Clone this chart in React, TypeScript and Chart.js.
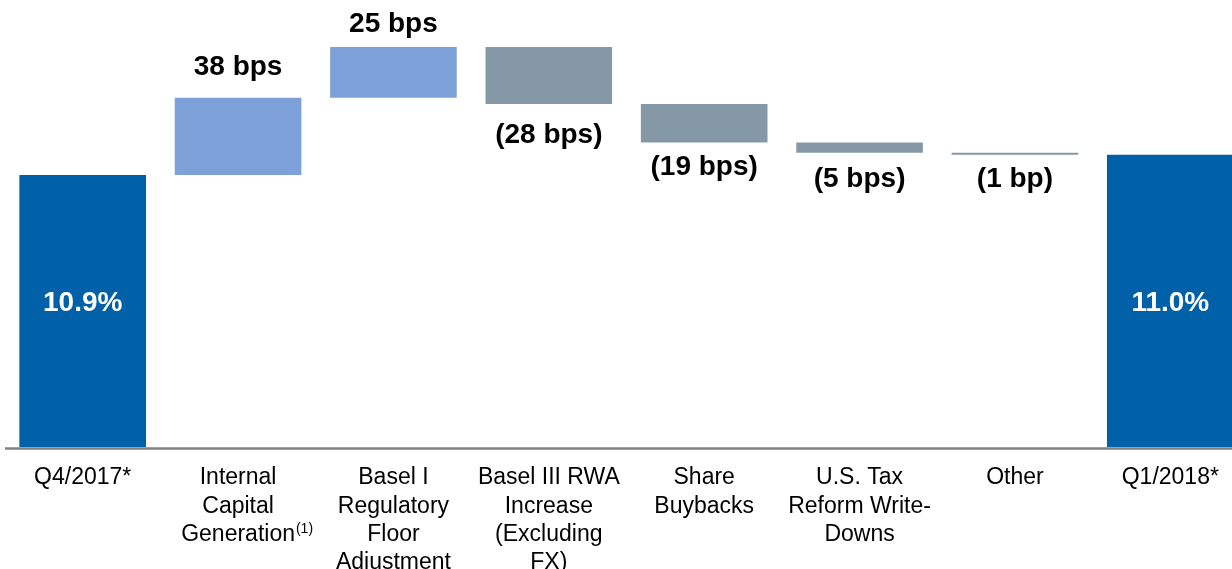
import React, { useEffect, useRef } from 'react';
import { Chart, registerables } from 'chart.js';

Chart.register(...registerables);

// ---- Data ----
const categories: (string | string[])[] = [
  'Q4/2017*',
  ['Internal', 'Capital', 'Generation'],
  ['Basel I', 'Regulatory', 'Floor', 'Adjustment'],
  ['Basel III RWA', 'Increase', '(Excluding', 'FX)'],
  ['Share', 'Buybacks'],
  ['U.S. Tax', 'Reform Write-', 'Downs'],
  'Other',
  'Q1/2018*',
];
const startValue = 10.9; // %
const endValue = 11.0; // %
const changesBps = [38, 25, -28, -19, -5, -1];
const changeLabels = ['38 bps', '25 bps', '(28 bps)', '(19 bps)', '(5 bps)', '(1 bp)'];
const totalLabels = ['10.9%', '11.0%'];
const footnoteCategory = 1;
const footnoteMark = '(1)';
const axisMin = 9.56;
const axisMax = 11.762;

// ---- Styles ----
const FONT = '"Liberation Sans", Arial, Helvetica, sans-serif';
const COLOR_TOTAL = '#0060A8';
const COLOR_UP = '#7DA0D9';
const COLOR_DOWN = '#8499A5';
const TICK_SIZE = 23;
const TICK_LINE = 28.3;
const TICK_PAD = 17;
const LABEL_OFFSETS = [31, 23, 31, 25, 27, 25];

function buildRanges(): [number, number][] {
  const out: [number, number][] = [[axisMin, startValue]];
  let cur = startValue;
  for (const d of changesBps) {
    const next = cur + d / 100;
    out.push([Math.min(cur, next), Math.max(cur, next)]);
    cur = next;
  }
  out.push([axisMin, endValue]);
  return out;
}

function buildColors(): string[] {
  return [COLOR_TOTAL, ...changesBps.map((d) => (d >= 0 ? COLOR_UP : COLOR_DOWN)), COLOR_TOTAL];
}

const labelPlugin = {
  id: 'waterfallLabels',
  afterDatasetsDraw(chart: any) {
    const ctx = chart.ctx as CanvasRenderingContext2D;
    const meta = chart.getDatasetMeta(0);
    const last = meta.data.length - 1;
    const mids: number[] = [];
    [0, last].forEach((i) => {
      const p = meta.data[i].getProps(['y', 'base'], true);
      mids.push((p.y + p.base) / 2);
    });
    const totalY = (mids[0] + mids[1]) / 2 - 3;
    ctx.save();
    meta.data.forEach((bar: any, i: number) => {
      const p = bar.getProps(['x', 'y', 'base'], true);
      const top = Math.min(p.y, p.base);
      const bottom = Math.max(p.y, p.base);
      ctx.font = `bold 28px ${FONT}`;
      ctx.textAlign = 'center';
      ctx.textBaseline = 'middle';
      if (i === 0 || i === last) {
        ctx.fillStyle = '#ffffff';
        ctx.fillText(totalLabels[i === 0 ? 0 : 1], p.x, totalY);
      } else {
        const d = changesBps[i - 1];
        const off = LABEL_OFFSETS[i - 1];
        ctx.fillStyle = '#000000';
        ctx.fillText(changeLabels[i - 1], p.x, d >= 0 ? top - off : bottom + off);
      }
    });

    // baseline axis line
    const area = chart.chartArea;
    ctx.strokeStyle = '#808080';
    ctx.lineWidth = 2.5;
    ctx.beginPath();
    ctx.moveTo(area.left, area.bottom + 1.5);
    ctx.lineTo(chart.width, area.bottom + 1.5);
    ctx.stroke();

    // footnote superscript after last line of a tick label
    const xs = chart.scales.x;
    const lbl = categories[footnoteCategory];
    const lines = Array.isArray(lbl) ? lbl : [lbl];
    const lastLine = lines[lines.length - 1];
    ctx.font = `${TICK_SIZE}px ${FONT}`;
    const w = ctx.measureText(lastLine).width;
    const cx = xs.getPixelForTick(footnoteCategory);
    const lineCenter = area.bottom + TICK_PAD + (lines.length - 0.5) * TICK_LINE;
    ctx.font = `14px ${FONT}`;
    ctx.fillStyle = '#000000';
    ctx.textAlign = 'left';
    ctx.textBaseline = 'middle';
    ctx.fillText(footnoteMark, cx + w / 2 + 1, lineCenter - 6);
    ctx.restore();
  },
};

export default function App() {
  const ref = useRef<HTMLCanvasElement | null>(null);

  useEffect(() => {
    document.body.style.margin = '0';
    const canvas = ref.current;
    if (!canvas) return;
    const chart = new Chart(canvas, {
      type: 'bar',
      data: {
        labels: categories as any,
        datasets: [
          {
            data: buildRanges() as any,
            backgroundColor: buildColors(),
            borderWidth: 0,
            categoryPercentage: 1,
            barPercentage: 0.815,
          },
        ],
      },
      options: {
        animation: false,
        responsive: false,
        devicePixelRatio: 1,
        layout: { padding: { left: 5, right: 2, top: 0, bottom: 0 } },
        plugins: {
          legend: { display: false },
          tooltip: { enabled: false },
          title: { display: false },
        },
        scales: {
          x: {
            grid: { display: false, drawTicks: false },
            border: { display: false },
            ticks: {
              color: '#000000',
              padding: TICK_PAD,
              maxRotation: 0,
              autoSkip: false,
              font: { family: FONT, size: TICK_SIZE, lineHeight: TICK_LINE / TICK_SIZE },
            },
            afterFit: (s: any) => {
              s.height = 122;
            },
          },
          y: {
            display: false,
            min: axisMin,
            max: axisMax,
          },
        },
      },
      plugins: [labelPlugin],
    });
    return () => chart.destroy();
  }, []);

  return (
    <div style={{ width: 1232, height: 569, overflow: 'hidden', position: 'relative' }}>
      <canvas ref={ref} width={1250} height={569} style={{ display: 'block', width: 1250, height: 569 }} />
    </div>
  );
}
